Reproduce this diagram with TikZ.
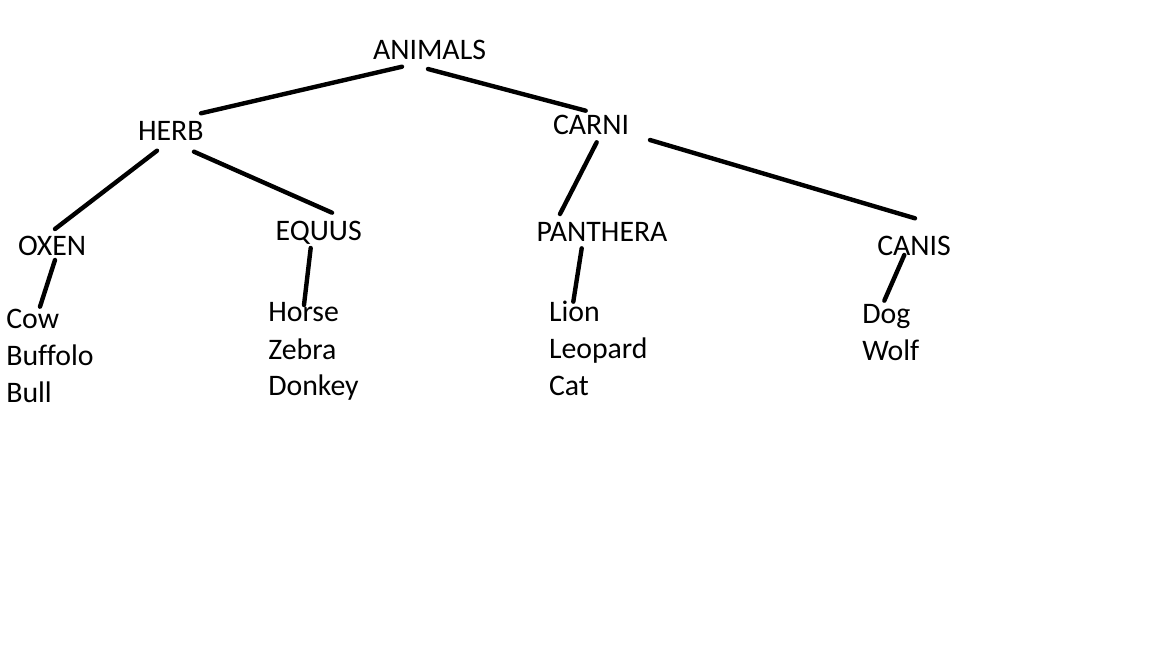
\documentclass[tikz,border=0pt]{standalone}
\usepackage{fontspec}
\setmainfont{Carlito}[Ligatures=NoCommon]
\begin{document}
\begin{tikzpicture}[x=1pt,y=-1pt,
  lbl/.style={inner sep=0pt,outer sep=0pt,anchor=base west,font=\fontsize{29.8}{37}\selectfont},
  edge/.style={line width=4.4pt,line cap=round}]
\useasboundingbox[fill=white] (0,0) rectangle (1152,648);
% level 0
\node[lbl] (anim) at (373,59.3) {ANIMALS};
% level 1
\node[lbl] (herb) at (138,140.7) {HERB};
\node[lbl] (carni) at (553,134.3) {CARNI};
% level 2
\node[lbl] (oxen) at (18,255) {OXEN};
\node[lbl] (equus) at (275.7,240.7) {EQUUS};
\node[lbl] (panth) at (536.7,241.7) {PANTHERA};
\node[lbl] (canis) at (877.3,255.7) {CANIS};
% leaves
\node[lbl] (cow) at (6.3,328) {Cow};
\node[lbl] (buff) at (6.3,365) {Buffolo};
\node[lbl] (bull) at (6.3,402.7) {Bull};
\node[lbl] (horse) at (268.3,321.7) {Horse};
\node[lbl] (zebra) at (268.3,359) {Zebra};
\node[lbl] (donkey) at (268.3,395.7) {Donkey};
\node[lbl] (lion) at (549,321.7) {Lion};
\node[lbl] (leopard) at (549,358.3) {Leopard};
\node[lbl] (cat) at (549,395) {Cat};
\node[lbl] (dog) at (862.3,323.3) {Dog};
\node[lbl] (wolf) at (862.3,360) {Wolf};
% connectors
\draw[edge] ([shift={(29,7.4)}]anim.base west) -- ([shift={(63,-27.4)}]herb.base west);
\draw[edge] ([shift={(55,9.7)}]anim.base west) -- ([shift={(32.7,-23.6)}]carni.base west);
\draw[edge] ([shift={(19,10)}]herb.base west) -- ([shift={(37,-26)}]oxen.base west);
\draw[edge] ([shift={(56,11)}]herb.base west) -- ([shift={(56.3,-28)}]equus.base west);
\draw[edge] ([shift={(43.7,8)}]carni.base west) -- ([shift={(23.3,-27.7)}]panth.base west);
\draw[edge] ([shift={(97,5.7)}]carni.base west) -- ([shift={(37.7,-37.4)}]canis.base west);
\draw[edge] ([shift={(37,5)}]oxen.base west) -- ([shift={(33.7,-21.3)}]cow.base west);
\draw[edge] ([shift={(35,7.3)}]equus.base west) -- ([shift={(35.7,-16.7)}]horse.base west);
\draw[edge] ([shift={(45,6.6)}]panth.base west) -- ([shift={(24.3,-20)}]lion.base west);
\draw[edge] ([shift={(27,-0.7)}]canis.base west) -- ([shift={(22,-22.6)}]dog.base west);
\end{tikzpicture}
\end{document}
